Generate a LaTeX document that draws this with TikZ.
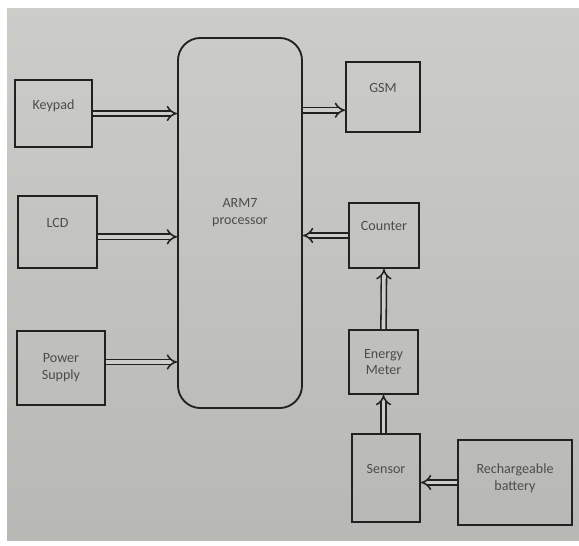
\documentclass[tikz,border=0pt]{standalone}
\usepackage{fontspec}
\setmainfont{Carlito}
\usepackage{xcolor}
\usetikzlibrary{arrows.meta}
\definecolor{paper}{rgb}{0.80,0.80,0.79}
\definecolor{paperdark}{rgb}{0.72,0.72,0.71}
\definecolor{ink}{rgb}{0.13,0.13,0.13}
\definecolor{txt}{rgb}{0.30,0.30,0.30}

\begin{document}
\begin{tikzpicture}[x=0.025cm, y=-0.025cm,
    blk/.style={draw=ink, line width=1.3pt, align=center, inner sep=1pt,
                text=txt, font=\fontsize{10}{12}\selectfont},
    oneline/.style={blk, text depth=13pt},
    link/.style={draw=ink, line width=1.1pt, double=paper, double distance=2.6pt, -{Implies}}]
    \useasboundingbox (0,0) rectangle (579,546);
    % photo background
    \shade[top color=paper, bottom color=paperdark] (7,8) rectangle (579,540);

    % processor
    \node[blk, rounded corners=16pt, minimum width=3.1cm, minimum height=9.25cm, text depth=16pt]
        (arm) at (240,223) {ARM7\\processor};

    % left column
    \node[oneline, minimum width=1.93cm, minimum height=1.68cm] (keypad) at (53.5,113.5) {Keypad};
    \node[oneline, minimum width=1.98cm, minimum height=1.8cm] (lcd) at (57.5,232) {LCD};
    \node[blk, minimum width=2.2cm, minimum height=1.85cm] (power) at (61,368) {Power\\Supply};

    % right column
    \node[oneline, minimum width=1.85cm, minimum height=1.75cm] (gsm) at (383,97) {GSM};
    \node[oneline, minimum width=1.75cm, minimum height=1.63cm] (counter) at (384,235.5) {Counter};
    \node[blk, minimum width=1.73cm, minimum height=1.6cm] (meter) at (383.5,362) {Energy\\Meter};
    \node[oneline, minimum width=1.7cm, minimum height=2.2cm] (sensor) at (386,478) {Sensor};
    \node[blk, minimum width=2.85cm, minimum height=2.13cm, text depth=8pt] (battery) at (515,482.5) {Rechargeable\\battery};

    % connections
    \coordinate (lcdout) at ([yshift=-0.12cm]lcd.east);
    \coordinate (powerout) at ([yshift=0.15cm]power.east);
    \coordinate (gsmin) at ([yshift=-0.33cm]gsm.west);
    \draw[link] (keypad.east) -- (keypad.east -| arm.west);
    \draw[link] (lcdout) -- (lcdout -| arm.west);
    \draw[link] (powerout) -- (powerout -| arm.west);
    \draw[link] (gsmin -| arm.east) -- (gsmin);
    \draw[link] (counter.west) -- (counter.west -| arm.east);
    \draw[link] (meter.north) -- (counter.south);
    \draw[link] (sensor.north -| meter.south) -- (meter.south);
    \draw[link] (battery.west) -- (battery.west -| sensor.east);
\end{tikzpicture}
\end{document}
